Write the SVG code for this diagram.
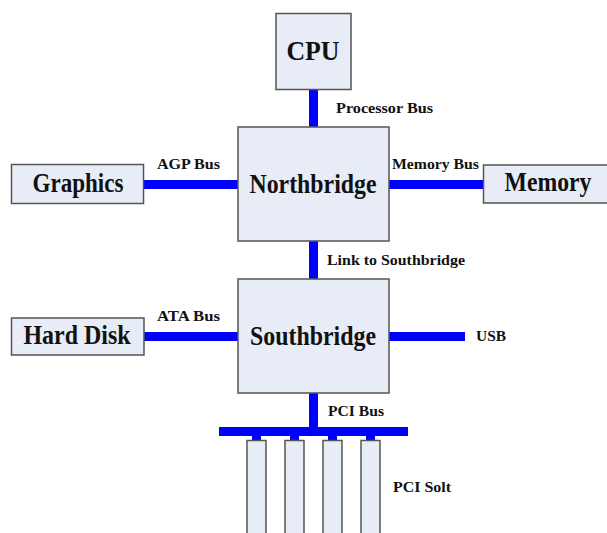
<svg xmlns="http://www.w3.org/2000/svg" width="607" height="533" viewBox="0 0 607 533">
<style>
.box{fill:#E7ECF6;stroke:#555;stroke-width:1.5}
.bus{fill:#0000FF}
.big{font-family:"Liberation Serif",serif;font-weight:bold;font-size:27px;fill:#111;text-anchor:middle}
.lbl{font-family:"Liberation Serif",serif;font-weight:bold;font-size:15.5px;fill:#111}
</style>
<rect width="607" height="533" fill="#FFFFFF"/>
<g id="connectors">
<rect class="bus" x="309" y="89" width="9" height="38"/>
<rect class="bus" x="144" y="180" width="94" height="9"/>
<rect class="bus" x="389" y="180" width="95" height="9"/>
<rect class="bus" x="309" y="241" width="9" height="38"/>
<rect class="bus" x="144" y="332" width="94" height="9"/>
<rect class="bus" x="389" y="332" width="76" height="9"/>
<rect class="bus" x="309" y="393" width="9" height="34"/>
<rect class="bus" x="219" y="427" width="189" height="9"/>
<rect class="bus" x="252" y="435" width="9" height="6"/>
<rect class="bus" x="290" y="435" width="9" height="6"/>
<rect class="bus" x="328" y="435" width="9" height="6"/>
<rect class="bus" x="366" y="435" width="9" height="6"/>
<text class="lbl" x="336" y="112.5" textLength="97" lengthAdjust="spacingAndGlyphs">Processor Bus</text>
<text class="lbl" x="157" y="169" textLength="63" lengthAdjust="spacingAndGlyphs">AGP Bus</text>
<text class="lbl" x="392" y="169" textLength="87" lengthAdjust="spacingAndGlyphs">Memory Bus</text>
<text class="lbl" x="327" y="265" textLength="138" lengthAdjust="spacingAndGlyphs">Link to Southbridge</text>
<text class="lbl" x="157" y="321" textLength="63" lengthAdjust="spacingAndGlyphs">ATA Bus</text>
<text class="lbl" x="476" y="341" textLength="30" lengthAdjust="spacingAndGlyphs">USB</text>
<text class="lbl" x="328" y="416" textLength="56" lengthAdjust="spacingAndGlyphs">PCI Bus</text>
<text class="lbl" x="393" y="492" textLength="58" lengthAdjust="spacingAndGlyphs">PCI Solt</text>
</g>
<g id="cpu">
<rect class="box" x="276" y="13.5" width="75" height="76"/>
<text class="big" x="313" y="59.5" textLength="53" lengthAdjust="spacingAndGlyphs">CPU</text>
</g>
<g id="northbridge">
<rect class="box" x="238" y="127" width="151" height="114"/>
<text class="big" x="313" y="193" textLength="127" lengthAdjust="spacingAndGlyphs">Northbridge</text>
</g>
<g id="graphics">
<rect class="box" x="11.5" y="164.5" width="132" height="39"/>
<text class="big" x="78" y="192" textLength="91" lengthAdjust="spacingAndGlyphs">Graphics</text>
</g>
<g id="memory">
<rect class="box" x="483.5" y="165" width="130" height="38"/>
<text class="big" x="548" y="191" textLength="87" lengthAdjust="spacingAndGlyphs">Memory</text>
</g>
<g id="southbridge">
<rect class="box" x="238" y="279" width="151" height="114"/>
<text class="big" x="313" y="345" textLength="126" lengthAdjust="spacingAndGlyphs">Southbridge</text>
</g>
<g id="harddisk">
<rect class="box" x="11.5" y="318" width="132.5" height="37"/>
<text class="big" x="77" y="344" textLength="107" lengthAdjust="spacingAndGlyphs">Hard Disk</text>
</g>
<g id="slot1"><rect class="box" x="247" y="440.5" width="19" height="100"/></g>
<g id="slot2"><rect class="box" x="285" y="440.5" width="19" height="100"/></g>
<g id="slot3"><rect class="box" x="323" y="440.5" width="19" height="100"/></g>
<g id="slot4"><rect class="box" x="361" y="440.5" width="19" height="100"/></g>
</svg>
